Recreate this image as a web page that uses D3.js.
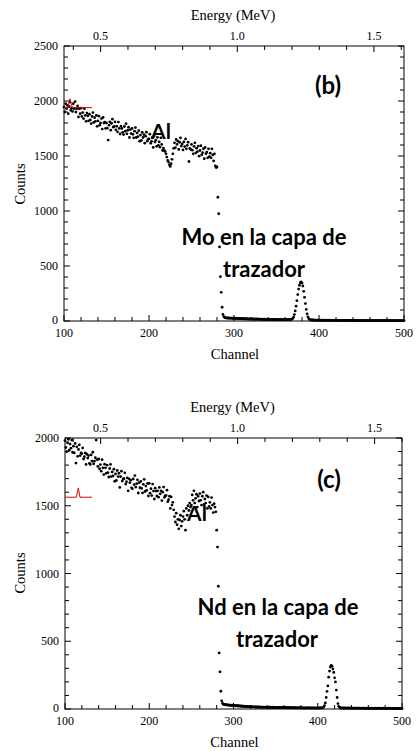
<!DOCTYPE html>
<html><head><meta charset="utf-8">
<script src="https://cdn.jsdelivr.net/npm/d3@7"></script>
<style>
html,body{margin:0;padding:0;background:#fff;}
svg{display:block;}
.tick-label{font-family:"Liberation Serif","Times New Roman",serif;font-size:12px;fill:#000;}
.axis-title{font-family:"Liberation Serif","Times New Roman",serif;font-size:14.5px;fill:#000;}
.ann{font-family:Lato,"Open Sans",sans-serif;font-weight:bold;fill:#000;}
</style></head>
<body>
<svg id="chart" width="417" height="751"></svg>
<script>
// ---------- DATA ----------
const channelStart = 100;           // first channel of each count array
const channelTicks = [100, 200, 300, 400, 500];
const energyTicks = [0.5, 1.0, 1.5];
const energyMinorTicks = [0.4,0.5,0.6,0.7,0.8,0.9,1.0,1.1,1.2,1.3,1.4,1.5,1.6];
const countTicksB = [0, 500, 1000, 1500, 2000, 2500];
const countTicksC = [0, 500, 1000, 1500, 2000];

// panel (b): counts for channels 100..500
const countsB = [
1945,1900,1975,1930,1960,1885,1950,1990,1915,1935,
1905,1975,1930,1995,1900,1930,1955,1855,1930,1885,
1935,1860,1895,1840,1930,1870,1815,1890,1865,1820,
1880,1828,1795,1860,1895,1805,1848,1815,1870,1770,
1820,1862,1780,1800,1840,1745,1850,1800,1807,1752,
1800,1753,1645,1780,1810,1735,1797,1835,1762,1770,
1810,1738,1770,1720,1808,1752,1700,1772,1750,1715,
1695,1768,1726,1794,1702,1734,1762,1668,1740,1704,
1750,1697,1665,1726,1758,1668,1710,1677,1730,1634,
1690,1642,1715,1668,1695,1617,1680,1716,1635,1653,
1655,1698,1616,1633,1670,1578,1681,1627,1644,1588,
1670,1597,1628,1580,1665,1605,1550,1572,1550,1540,
1520,1490,1460,1445,1420,1405,1430,1470,1520,1570,
1620,1575,1650,1605,1635,1560,1625,1665,1590,1610,
1555,1628,1586,1655,1565,1597,1625,1450,1570,1560,
1605,1553,1520,1587,1620,1528,1571,1539,1590,1498,
1550,1593,1511,1530,1566,1475,1578,1521,1536,1483,
1565,1493,1526,1483,1565,1510,1455,1520,1410,1395,
1400,1125,975,673,403,261,125,60,40,32,
30,27,29,25,28,26,24,27,25,23,
26,24,22,25,23,21,24,22,20,23,
21,19,22,20,18,21,19,17,20,18,
19,17,20,16,18,17,15,18,16,17,
15,17,14,16,15,13,16,14,15,13,
14,16,13,15,12,14,13,15,12,14,
13,12,14,11,13,12,14,11,13,12,
12,13,11,14,12,13,12,14,16,22,
35,58,92,135,185,240,290,325,348,355,
345,318,270,215,158,105,65,38,22,14,
10,9,8,9,7,8,7,6,8,7,
7,6,8,6,7,5,7,6,5,7,
6,5,7,6,5,6,4,6,5,6,
5,6,4,5,6,5,4,6,5,4,
6,5,4,5,4,6,5,4,5,4,
5,4,6,4,5,4,3,5,4,5,
4,5,3,4,5,4,3,4,5,3,
4,3,5,4,3,4,5,3,4,3,
4,5,3,4,3,4,3,5,4,3,
3,4,3,4,5,3,4,3,4,3,
4,3,4,3,3,4,3,4,3,3,
4];

// panel (c): counts for channels 100..500
const countsC = [
1980,1930,1900,1965,1990,1910,1955,1925,1985,1895,
1940,1890,1960,1815,1935,1865,1915,1950,1870,1890,
1885,1927,1845,1862,1890,1805,1880,1852,1870,1813,
1805,1875,1830,1895,1810,1830,1855,1985,1840,1790,
1845,1773,1804,1755,1840,1780,1730,1807,1780,1740,
1800,1745,1712,1775,1805,1715,1750,1720,1770,1680,
1735,1687,1760,1715,1740,1635,1715,1755,1682,1698,
1700,1743,1660,1677,1705,1610,1699,1670,1689,1632,
1625,1698,1656,1723,1638,1663,1691,1594,1670,1633,
1680,1628,1595,1658,1695,1605,1645,1614,1665,1572,
1665,1593,1626,1575,1660,1608,1550,1630,1608,1572,
1610,1563,1635,1588,1610,1538,1600,1638,1562,1575,
1575,1615,1530,1545,1570,1480,1565,1505,1525,1470,
1420,1380,1445,1360,1400,1330,1395,1430,1350,1385,
1420,1460,1400,1320,1480,1430,1500,1465,1520,1490,
1505,1580,1540,1610,1520,1555,1585,1490,1570,1535,
1590,1540,1505,1570,1600,1510,1550,1520,1575,1480,
1565,1495,1525,1480,1560,1505,1450,1515,1490,1455,
1320,1195,906,414,274,131,60,42,35,34,
33,30,32,28,31,27,29,26,28,25,
27,24,26,23,25,22,24,21,23,20,
22,19,21,18,20,17,19,18,16,18,
17,15,17,16,14,16,15,13,15,14,
15,13,14,12,14,13,12,14,12,13,
12,13,11,13,12,11,13,12,10,12,
11,12,10,12,11,10,12,11,10,11,
10,11,9,11,10,9,11,10,9,10,
9,10,9,8,10,9,8,9,10,8,
9,8,9,8,7,9,8,7,9,8,
8,7,8,7,9,8,7,8,7,8,
7,8,7,9,8,9,10,14,25,45,
85,130,170,235,280,310,322,315,295,270,
230,200,140,85,40,20,12,9,7,8,
7,6,8,7,6,7,8,6,7,6,
7,6,5,7,6,5,6,7,5,6,
6,5,7,5,6,5,6,5,4,6,
5,6,4,5,6,5,4,5,6,4,
5,4,6,5,4,5,4,6,5,4,
5,4,5,4,6,4,5,4,5,4,
4,5,4,5,4,4,5,4,4,5,
4];

// red reference traces
const redChannelsB = [100, 104.4, 107, 109.8, 133];
const redCountsB   = [1940, 1940, 2020, 1940, 1940];
const redChannelsC = [100, 113.4, 115.8, 117.8, 132];
const redCountsC   = [1563, 1563, 1630, 1563, 1563];

// ---------- DRAW ----------
const svg = d3.select("#chart");

function drawPanel(o) {
  const g = svg.append("g");
  const x = d3.scaleLinear().domain([100, 500]).range([o.left, o.right]);
  const y = d3.scaleLinear().domain([0, o.ymax]).range([o.bottom, o.top]);
  const e = d3.scaleLinear().domain(o.energyDomain).range([o.left, o.right]);

  // frame
  g.append("rect").attr("x", o.left).attr("y", o.top)
    .attr("width", o.right - o.left).attr("height", o.bottom - o.top)
    .attr("fill", "none").attr("stroke", "#000").attr("stroke-width", 1);

  const tk = g.append("g").attr("stroke", "#000").attr("stroke-width", 1);
  // bottom channel ticks (major 100, minor 20)
  d3.range(100, 501, 20).forEach(c => {
    const L = c % 100 === 0 ? 6 : 4;
    tk.append("line").attr("x1", x(c)).attr("x2", x(c)).attr("y1", o.bottom).attr("y2", o.bottom - L);
  });
  channelTicks.forEach(c => {
    g.append("text").attr("class", "tick-label").attr("x", x(c)).attr("y", o.bottom + 16)
      .attr("text-anchor", "middle").text(c);
  });
  // top energy ticks
  energyMinorTicks.forEach(v => {
    const px = e(v);
    if (px < o.left - 0.5 || px > o.right + 0.5) return;
    const major = energyTicks.some(t => Math.abs(t - v) < 1e-6);
    tk.append("line").attr("x1", px).attr("x2", px).attr("y1", o.top).attr("y2", o.top + (major ? 6 : 4));
  });
  energyTicks.forEach(v => {
    g.append("text").attr("class", "tick-label").attr("x", e(v)).attr("y", o.top - 6)
      .attr("text-anchor", "middle").text(d3.format(".1f")(v));
  });
  // y ticks left and right
  d3.range(0, o.ymax + 1, 100).forEach(v => {
    const L = v % 500 === 0 ? 6 : 4;
    tk.append("line").attr("x1", o.left).attr("x2", o.left + L).attr("y1", y(v)).attr("y2", y(v));
    tk.append("line").attr("x1", o.right).attr("x2", o.right - L).attr("y1", y(v)).attr("y2", y(v));
  });
  o.yTicks.forEach(v => {
    g.append("text").attr("class", "tick-label").attr("x", o.left - 6).attr("y", y(v) + (v === 0 ? 2.5 : 4))
      .attr("text-anchor", "end").text(v);
  });

  // titles
  g.append("text").attr("class", "axis-title").attr("x", (o.left + o.right) / 2 - 1).attr("y", o.top - 26)
    .attr("text-anchor", "middle").text("Energy (MeV)");
  g.append("text").attr("class", "axis-title").attr("x", (o.left + o.right) / 2 + 1).attr("y", o.bottom + 38)
    .attr("text-anchor", "middle").text("Channel");
  g.append("text").attr("class", "axis-title")
    .attr("transform", `translate(25,${o.countsY}) rotate(-90)`)
    .attr("text-anchor", "middle").text("Counts");

  // data points
  g.append("g").selectAll("circle").data(o.counts).join("circle")
    .attr("cx", (d, i) => x(channelStart + i))
    .attr("cy", d => y(d))
    .attr("r", 1.4).attr("fill", "#000");

  // red reference trace
  const line = d3.line().x(d => x(d[0])).y(d => y(d[1]));
  g.append("path").datum(o.redCh.map((c, i) => [c, o.redCt[i]]))
    .attr("d", line).attr("fill", "none").attr("stroke", "#e00000").attr("stroke-width", 1);

  // annotations
  g.append("text").attr("class", "ann").attr("font-size", 24).attr("x", o.labelX).attr("y", o.labelY)
    .attr("text-anchor", "middle").text(o.label);
  g.append("text").attr("class", "ann").attr("font-size", 21).attr("x", o.alX).attr("y", o.alY)
    .attr("text-anchor", "middle").text("Al");
  g.append("text").attr("class", "ann").attr("font-size", 22).attr("x", o.elX).attr("y", o.elY)
    .attr("text-anchor", "middle").text(o.element + " en la capa de");
  g.append("text").attr("class", "ann").attr("font-size", 22).attr("x", o.trX).attr("y", o.elY + 32)
    .attr("text-anchor", "middle").text("trazador");
}

drawPanel({
  left: 64, right: 404, top: 46, bottom: 321, ymax: 2500,
  energyDomain: [0.366, 1.61], yTicks: countTicksB, counts: countsB,
  redCh: redChannelsB, redCt: redCountsB, countsY: 184,
  label: "(b)", labelX: 328, labelY: 94,
  alX: 161, alY: 139, element: "Mo", elX: 264, elY: 245, trX: 264
});
drawPanel({
  left: 65, right: 402, top: 438, bottom: 709, ymax: 2000,
  energyDomain: [0.37, 1.60], yTicks: countTicksC, counts: countsC,
  redCh: redChannelsC, redCt: redCountsC, countsY: 573,
  label: "(c)", labelX: 329, labelY: 488,
  alX: 197, alY: 521, element: "Nd", elX: 278, elY: 615, trX: 277
});
</script>
</body></html>
